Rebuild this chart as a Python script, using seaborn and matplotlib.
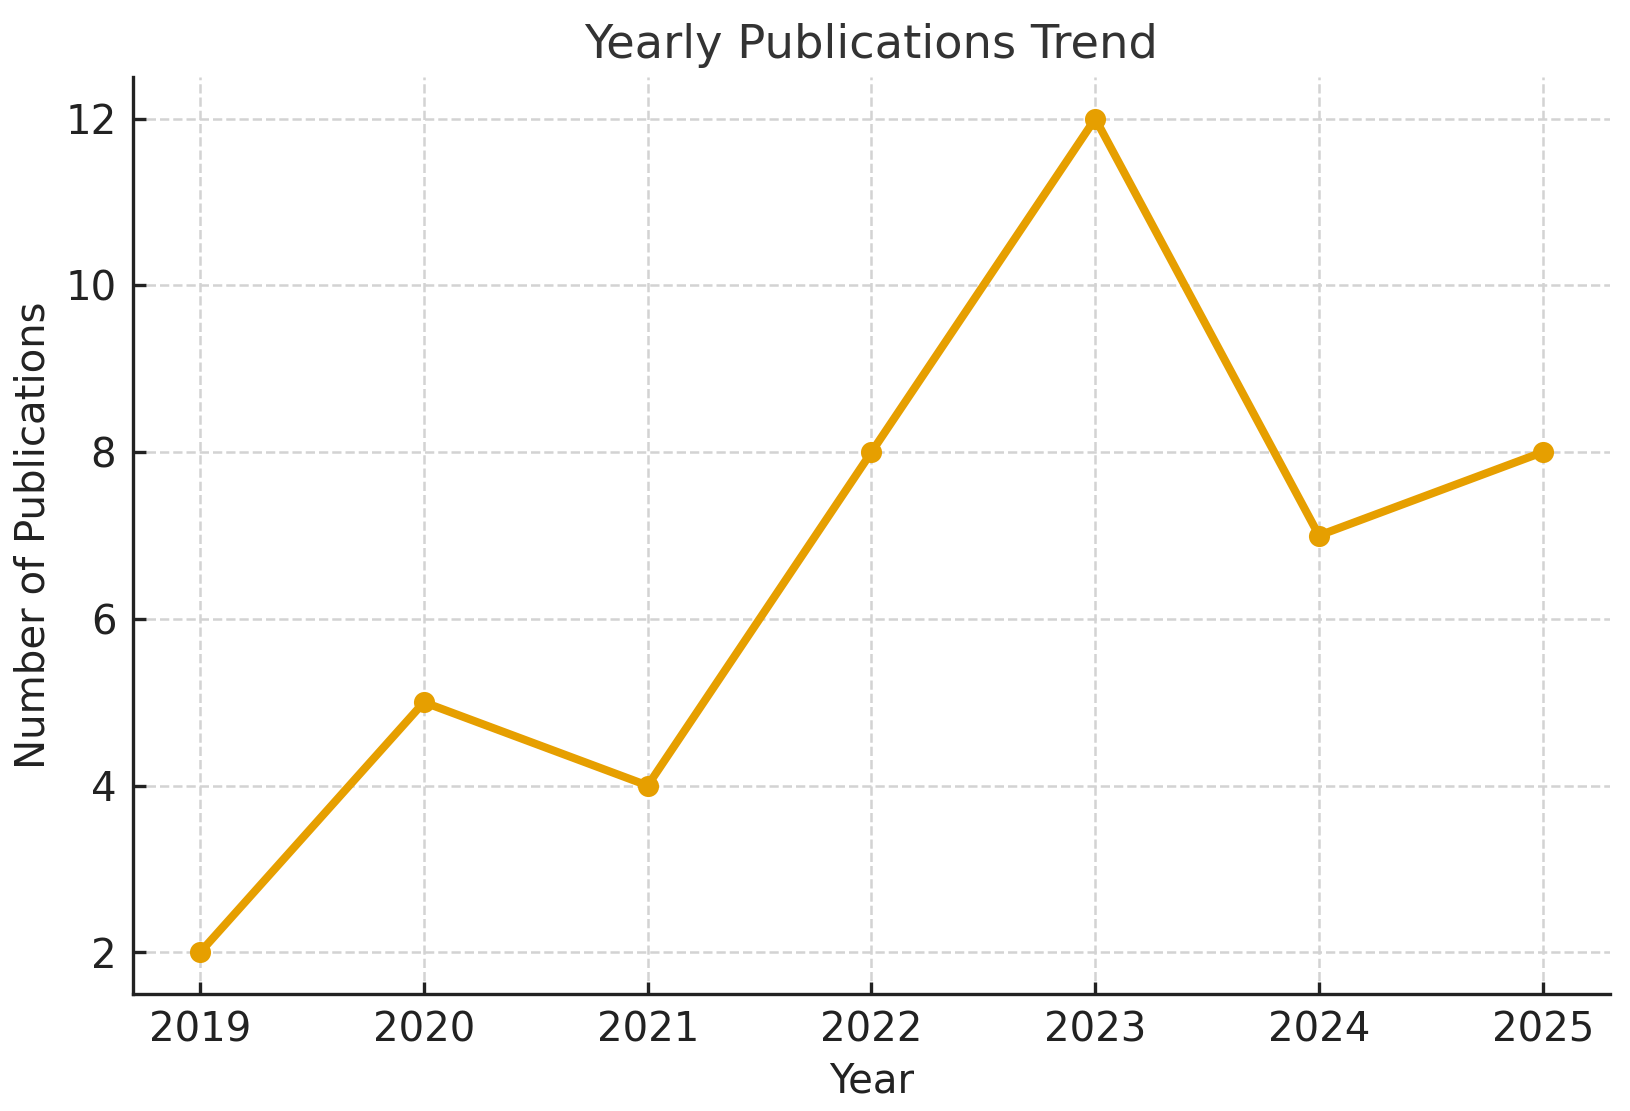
import matplotlib
matplotlib.use("Agg")
import matplotlib.pyplot as plt
import seaborn as sns
import pandas as pd

# data
years = [2019, 2020, 2021, 2022, 2023, 2024, 2025]
publications = [2, 5, 4, 8, 12, 7, 8]

df = pd.DataFrame({"Year": years, "Publications": publications})

sns.set_style("ticks")
plt.rcParams["font.family"] = ["DejaVu Sans"]

fig, ax = plt.subplots(figsize=(8.15, 5.555), dpi=200)
fig.subplots_adjust(left=0.0816, right=0.9877, bottom=0.1053, top=0.9307)

sns.lineplot(data=df, x="Year", y="Publications", marker="o", color="#E69F00",
             linewidth=2.9, markersize=7.6, markeredgewidth=0, ax=ax)

ax.grid(True, linestyle="--", color="#d3d3d3", linewidth=0.9)
ax.set_axisbelow(True)
sns.despine(ax=ax)
for side in ["left", "bottom"]:
    ax.spines[side].set_linewidth(1.2)
    ax.spines[side].set_color("#222222")

ax.set_xticks(years)
ax.set_yticks([2, 4, 6, 8, 10, 12])
ax.tick_params(direction="in", length=4.5, width=1.2, labelsize=14.5,
               colors="#222222", pad=6)

ax.set_title("Yearly Publications Trend", fontsize=16.7, color="#333333", pad=7)
ax.set_xlabel("Year", fontsize=14.5, color="#222222")
ax.set_ylabel("Number of Publications", fontsize=14.5, color="#222222")

plt.savefig("out.png", dpi=200)
